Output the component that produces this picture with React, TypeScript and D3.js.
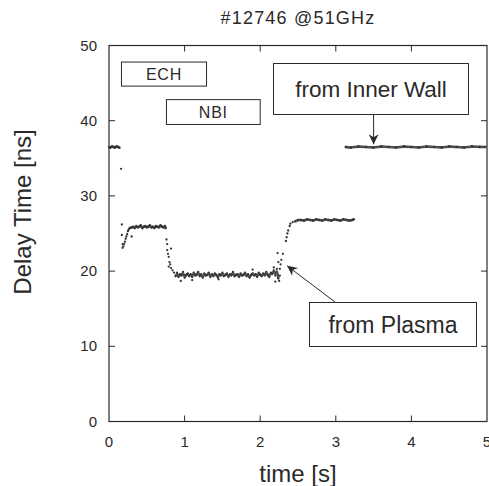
import React from 'react'
import * as d3 from 'd3'

// delay time [ns] vs time [s]
const wallEarly: [number, number][] = [
  [0.0, 36.5], [0.02, 36.4], [0.04, 36.6], [0.06, 36.5], [0.08, 36.4], [0.1, 36.6], [0.12, 36.5], [0.14, 36.4],
]

const echStart: [number, number][] = [
  [0.17, 24.8], [0.17, 26.2], [0.18, 23.6], [0.18, 23.1], [0.19, 23.3], [0.2, 23.6], [0.21, 23.9], [0.22, 24.3],
  [0.23, 24.6], [0.24, 24.9], [0.25, 25.3], [0.26, 25.5],
]

const echPlateau: [number, number][] = [
  [0.27, 25.7], [0.3, 25.8], [0.32, 25.9], [0.34, 25.7], [0.36, 26.0], [0.38, 25.8],
  [0.4, 25.9], [0.42, 26.1], [0.44, 25.7], [0.46, 25.9], [0.48, 26.0], [0.5, 25.8], [0.52, 25.9], [0.54, 26.1],
  [0.56, 25.8], [0.58, 25.9], [0.6, 25.7], [0.62, 26.0], [0.64, 25.9], [0.66, 25.8], [0.68, 26.1], [0.7, 25.9],
  [0.72, 25.8], [0.74, 26.0], [0.75, 25.7],
]

const dropPhase: [number, number][] = [
  [0.76, 24.2], [0.77, 23.6], [0.77, 22.8], [0.78, 22.3], [0.79, 21.9], [0.8, 21.2], [0.81, 20.9], [0.82, 20.4],
  [0.84, 20.1], [0.86, 19.8],
]

const nbiTimes = d3.range(0.88, 2.25, 0.02)
const nbiValues = [
  19.3, 19.8, 19.2, 19.6, 19.4, 19.9, 19.1, 19.5, 19.7, 19.3, 19.6, 19.2, 19.8, 19.4, 19.5, 19.9, 19.3, 19.6,
  19.1, 19.7, 19.4, 19.5, 19.8, 19.2, 19.6, 19.3, 19.7, 19.5, 19.1, 19.6, 19.4, 19.8, 19.3, 19.5, 19.7, 19.2,
  19.6, 19.4, 19.9, 19.3, 19.5, 19.6, 19.2, 19.7, 19.4, 19.5, 19.8, 19.3, 19.6, 19.1, 19.5, 19.7, 19.4, 19.6,
  19.2, 19.8, 19.5, 19.3, 19.7, 19.4, 19.9, 19.5, 19.2, 19.8, 19.6, 20.1, 19.4, 20.3, 19.0,
]

const risePhase: [number, number][] = [
  [2.25, 18.7], [2.26, 19.4], [2.26, 20.3], [2.27, 20.9], [2.28, 21.5], [2.3, 22.3], [2.34, 24.0], [2.35, 24.5],
  [2.36, 25.0], [2.37, 25.4], [2.39, 26.0],
]

const lateOhmic: [number, number][] = [
  [2.46, 26.6], [2.5, 26.8], [2.54, 26.8], [2.58, 26.7], [2.62, 26.9], [2.66, 26.8], [2.7, 26.7], [2.74, 26.9],
  [2.78, 26.8], [2.82, 26.7], [2.86, 26.9], [2.9, 26.8], [2.94, 26.7], [2.98, 26.9], [3.02, 26.8], [3.06, 26.7],
  [3.1, 26.9], [3.14, 26.8], [3.18, 26.7], [3.22, 26.8], [3.24, 26.9],
]

const wallLate: [number, number][] = [
  [3.13, 36.5], [3.2, 36.4], [3.3, 36.6], [3.4, 36.5], [3.5, 36.4], [3.6, 36.6], [3.7, 36.5], [3.8, 36.4],
  [3.9, 36.6], [4.0, 36.5], [4.1, 36.4], [4.2, 36.6], [4.3, 36.5], [4.4, 36.4], [4.5, 36.6], [4.6, 36.5],
  [4.7, 36.4], [4.8, 36.6], [4.9, 36.5], [4.98, 36.5],
]

const strays: [number, number][] = [
  [0.16, 33.6], [0.79, 20.6], [0.82, 23.0], [1.1, 18.8], [1.45, 18.9], [2.18, 20.5], [2.2, 18.6],
  [2.24, 21.2], [2.23, 22.4], [0.3, 24.6], [0.95, 18.7], [1.9, 20.2], [2.4, 26.3], [2.43, 26.5],
]

const xTicks = [0, 1, 2, 3, 4, 5]
const yTicks = [0, 10, 20, 30, 40, 50]

const W = 489
const H = 486
const m = { left: 109, right: 487, top: 45.5, bottom: 421.5 }
const font = '"Liberation Sans", Arial, Helvetica, sans-serif'
const ink = '#2a2a2a'

export default function App() {
  const x = d3.scaleLinear().domain([0, 5]).range([m.left, m.right])
  const y = d3.scaleLinear().domain([0, 50]).range([m.bottom, m.top])
  const line = d3.line<[number, number]>().x(d => x(d[0])).y(d => y(d[1])).curve(d3.curveBasis)

  const nbiPlateau: [number, number][] = nbiTimes.map((t, i) => [t, nbiValues[i]])
  const plateaus = [wallEarly, echPlateau, nbiPlateau, lateOhmic, wallLate]
  const allPoints = ([] as [number, number][]).concat(...plateaus, echStart, dropPhase, risePhase, strays)

  const tick = 6

  return (
    <svg width={W} height={H} style={{ position: 'absolute', left: 0, top: 0, background: '#fff' }}>
      <defs>
        <marker id="arr" viewBox="0 0 10 10" refX="10" refY="5" markerWidth="12" markerHeight="10" orient="auto-start-reverse" markerUnits="userSpaceOnUse">
          <path d="M0,0 L10,5 L0,10 L3,5 Z" fill={ink} />
        </marker>
      </defs>

      <text x={298} y={24} textAnchor="middle" fontFamily={font} fontSize={18} letterSpacing={1.2} fill={ink}>#12746 @51GHz</text>

      {/* frame */}
      <rect x={m.left} y={m.top} width={m.right - m.left} height={m.bottom - m.top} fill="none" stroke={ink} strokeWidth={1.2} />

      {xTicks.slice(1, -1).map(t => (
        <g key={'xt' + t}>
          <line x1={x(t)} x2={x(t)} y1={m.bottom} y2={m.bottom - tick} stroke={ink} />
          <line x1={x(t)} x2={x(t)} y1={m.top} y2={m.top + tick} stroke={ink} />
        </g>
      ))}
      {yTicks.slice(1, -1).map(v => (
        <g key={'yt' + v}>
          <line x1={m.left} x2={m.left + tick} y1={y(v)} y2={y(v)} stroke={ink} />
          <line x1={m.right} x2={m.right - tick} y1={y(v)} y2={y(v)} stroke={ink} />
        </g>
      ))}
      {xTicks.map(t => (
        <text key={'xl' + t} x={x(t)} y={447} textAnchor="middle" fontFamily={font} fontSize={15} fill={ink}>{t}</text>
      ))}
      {yTicks.map(v => (
        <text key={'yl' + v} x={97} y={y(v) + 5} textAnchor="end" fontFamily={font} fontSize={15} fill={ink}>{v}</text>
      ))}

      <text x={298} y={482} textAnchor="middle" fontFamily={font} fontSize={24} fill={ink}>time [s]</text>
      <text transform="translate(31,212) rotate(-90)" textAnchor="middle" fontFamily={font} fontSize={24} fill={ink}>Delay Time [ns]</text>

      {/* data: plateaus as a dense band, transitions as scattered points */}
      {plateaus.map((s, i) => (
        <path key={'s' + i} d={line(s) || ''} fill="none" stroke="#3a3a3a" strokeWidth={2.6} strokeOpacity={0.9} />
      ))}
      {allPoints.map((p, i) => (
        <circle key={'p' + i} cx={x(p[0])} cy={y(p[1])} r={1.15} fill="#333" />
      ))}

      {/* heating labels */}
      <rect x={x(0.165)} y={y(47.8)} width={x(1.29) - x(0.165)} height={y(44.6) - y(47.8)} fill="none" stroke={ink} strokeWidth={1} />
      <text x={(x(0.165) + x(1.29)) / 2} y={y(44.6) - 6} textAnchor="middle" fontFamily={font} fontSize={16} letterSpacing={0.8} fill={ink}>ECH</text>
      <rect x={x(0.76)} y={y(42.8)} width={x(2.0) - x(0.76)} height={y(39.5) - y(42.8)} fill="none" stroke={ink} strokeWidth={1} />
      <text x={(x(0.76) + x(2.0)) / 2} y={y(39.5) - 6} textAnchor="middle" fontFamily={font} fontSize={16} letterSpacing={0.8} fill={ink}>NBI</text>

      {/* annotations */}
      <rect x={273.5} y={63.5} width={195} height={51} fill="#fff" stroke={ink} strokeWidth={1} />
      <text x={371} y={97} textAnchor="middle" fontFamily={font} fontSize={22.5} fill={ink}>from Inner Wall</text>
      <line x1={x(3.5)} y1={114.5} x2={x(3.5)} y2={y(36.6) - 2} stroke={ink} strokeWidth={1} markerEnd="url(#arr)" />

      <rect x={309.5} y={302.5} width={167} height={44} fill="#fff" stroke={ink} strokeWidth={1} />
      <text x={393} y={333} textAnchor="middle" fontFamily={font} fontSize={23} fill={ink}>from Plasma</text>
      <line x1={335} y1={302} x2={x(2.33) + 2} y2={y(20.7)} stroke={ink} strokeWidth={1} markerEnd="url(#arr)" />
    </svg>
  )
}
